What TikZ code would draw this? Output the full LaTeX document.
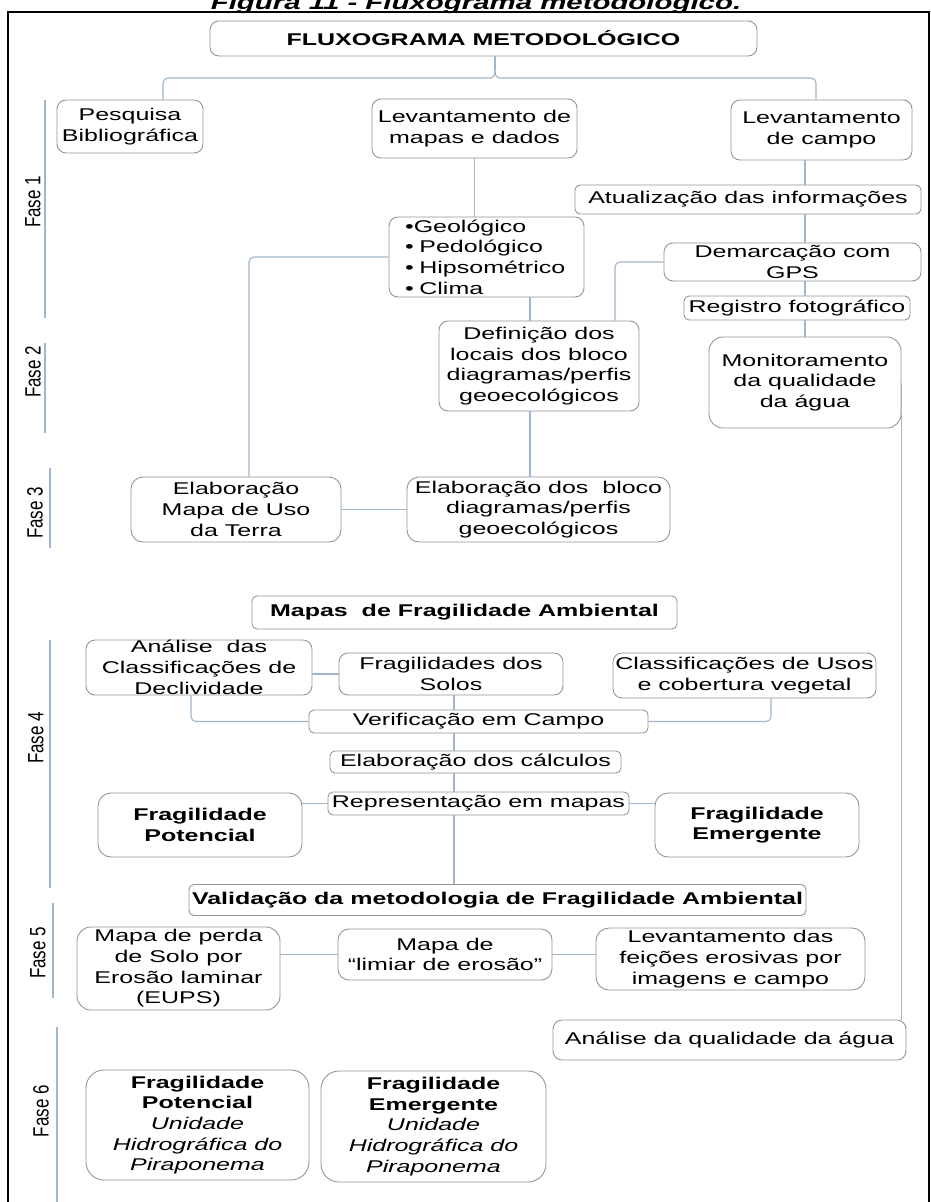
\documentclass[tikz,border=0pt]{standalone}
\usepackage{fontspec}
\setmainfont{Liberation Sans}[FakeStretch=1.47]
\newfontfamily\fasefont{Liberation Sans}
\usepackage{graphicx}
\definecolor{boxgray}{RGB}{150,150,150}
\definecolor{linec}{RGB}{160,182,204}
\newcommand\fs{\fontsize{17}{20.7}\selectfont}
\newcommand\faselbl[1]{\scalebox{1}[1.3]{\fasefont\fontsize{17}{19}\selectfont #1}}
\tikzset{
  box/.style={draw=boxgray, line width=0.9pt, rounded corners=9pt, align=center, inner sep=0pt, font=\fs, fill=white},
  smallbox/.style={box, rounded corners=5pt},
  conn/.style={draw=linec, line width=1.1pt, rounded corners=5pt},
  faseline/.style={draw=linec, line width=1.1pt},
  fasetxt/.style={rotate=90, inner sep=0pt}
}
\begin{document}
\begin{tikzpicture}[x=1pt,y=-1pt]
\useasboundingbox (0,0) rectangle (931,1202);
\fill[white] (0,0) rectangle (931,1202);
% frame and title
\draw[black, line width=1.3pt] (8,12) rectangle (929,1215);
\node[anchor=base, inner sep=0pt, font=\fontsize{20}{24}\selectfont\bfseries\itshape] (title) at (476,9.5) {Figura 11 - Fluxograma metodológico.};

% phase labels
\node[fasetxt] (f1) at (33,202) {\faselbl{Fase 1}};
\node[fasetxt] (f2) at (33,372) {\faselbl{Fase 2}};
\node[fasetxt] (f3) at (35,513) {\faselbl{Fase 3}};
\node[fasetxt] (f4) at (36,738) {\faselbl{Fase 4}};
\node[fasetxt] (f5) at (38,953) {\faselbl{Fase 5}};
\node[fasetxt] (f6) at (41,1111) {\faselbl{Fase 6}};
\draw[faseline] (45,100) -- (45,318);
\draw[faseline] (45,343) -- (45,433);
\draw[faseline] (50,468) -- (50,548);
\draw[faseline] (50,640) -- (50,888);
\draw[faseline] (53,903) -- (53,998);
\draw[faseline] (57,1027) -- (57,1202);

% boxes
\node[box, minimum width=547pt, minimum height=35pt] (flux) at (483.5,38.5) {\textbf{FLUXOGRAMA METODOLÓGICO}};
\node[box, minimum width=146pt, minimum height=53pt] (pesq) at (130,126.5) {Pesquisa\\Bibliográfica};
\node[box, minimum width=205pt, minimum height=59pt] (levm) at (474.5,128.5) {Levantamento de\\mapas e dados};
\node[box, minimum width=181pt, minimum height=60pt] (levc) at (821.5,130) {Levantamento\\de campo};
\node[smallbox, minimum width=346pt, minimum height=29pt] (atual) at (748,199.5) {Atualização das informações};
\node[box, minimum width=195pt, minimum height=80pt, text width=163pt, align=left] (geo) at (486.5,257) {•Geológico\\• Pedológico\\• Hipsométrico\\• Clima};
\node[box, minimum width=257pt, minimum height=38pt] (demarc) at (792.5,262) {Demarcação com\\GPS};
\node[smallbox, minimum width=226pt, minimum height=24pt] (regis) at (797,308) {Registro fotográfico};
\node[box, minimum width=200pt, minimum height=90pt] (defin) at (539,366) {Definição dos\\locais dos bloco\\diagramas/perfis\\geoecológicos};
\node[box, minimum width=192pt, minimum height=91pt, rounded corners=14pt] (monit) at (805,382.5) {Monitoramento\\da qualidade\\da água};
\node[box, minimum width=210pt, minimum height=65pt, rounded corners=12pt] (elabm) at (236,509.5) {Elaboração\\Mapa de Uso\\da Terra};
\node[box, minimum width=263pt, minimum height=65pt, rounded corners=12pt] (elabb) at (538.5,509.5) {Elaboração dos\ \ bloco\\diagramas/perfis\\geoecológicos};
\node[smallbox, minimum width=425pt, minimum height=33pt] (mapas) at (464.5,612.5) {\textbf{Mapas\ \ de Fragilidade Ambiental}};
\node[box, minimum width=226pt, minimum height=55pt] (andecl) at (199,667.5) {Análise\ \ das\\Classificações de\\Declividade};
\node[box, minimum width=224pt, minimum height=42pt] (fragsol) at (451,674) {Fragilidades dos\\Solos};
\node[box, minimum width=263pt, minimum height=45pt] (classu) at (744.5,675.5) {Classificações de Usos\\e cobertura vegetal};
\node[smallbox, minimum width=339pt, minimum height=23pt] (verif) at (478.5,721.5) {Verificação em Campo};
\node[smallbox, minimum width=291pt, minimum height=22pt] (calc) at (475.5,762) {Elaboração dos cálculos};
\node[smallbox, minimum width=301pt, minimum height=23pt] (repr) at (478.5,803.5) {Representação em mapas};
\node[box, minimum width=204pt, minimum height=64pt, rounded corners=13pt] (fpot) at (200,825) {\textbf{Fragilidade}\\\textbf{Potencial}};
\node[box, minimum width=204pt, minimum height=64pt, rounded corners=13pt] (femer) at (757,825) {\textbf{Fragilidade}\\\textbf{Emergente}};
\node[smallbox, minimum width=617pt, minimum height=31pt] (valid) at (497.5,900) {\textbf{Validação da metodologia de Fragilidade Ambiental}};
\node[box, minimum width=203pt, minimum height=83pt, rounded corners=14pt] (perda) at (178.5,968.5) {Mapa de perda\\de Solo por\\Erosão laminar\\(EUPS)};
\node[box, minimum width=214pt, minimum height=51pt, rounded corners=11pt] (limiar) at (445,954.5) {Mapa de\\“limiar de erosão”};
\node[box, minimum width=269pt, minimum height=62pt, rounded corners=13pt] (feic) at (730.5,959) {Levantamento das\\feições erosivas por\\imagens e campo};
\node[box, minimum width=353pt, minimum height=40pt] (agua) at (729.5,1040) {Análise da qualidade da água};
\node[box, minimum width=223pt, minimum height=110pt, rounded corners=18pt] (f6p) at (197.5,1125) {\textbf{Fragilidade}\\\textbf{Potencial}\\\textit{Unidade}\\\textit{Hidrográfica do}\\\textit{Piraponema}};
\node[box, minimum width=225pt, minimum height=111pt, rounded corners=18pt] (f6e) at (433.5,1126.5) {\textbf{Fragilidade}\\\textbf{Emergente}\\\textit{Unidade}\\\textit{Hidrográfica do}\\\textit{Piraponema}};

% helper coordinates
\coordinate (brtip) at (495,70);
\coordinate (brl) at (163,78);
\coordinate (brr) at (816,78);
\coordinate (rx) at (805,0);
\coordinate (mx) at (530,0);
\coordinate (lx) at (249,0);
\coordinate (dx) at (615,0);
\coordinate (ax) at (191,0);
\coordinate (ux) at (771,0);
\coordinate (cx) at (454,0);

% connectors
\draw[conn] (flux.south -| brtip) -- (brtip);
\draw[conn] (brtip) .. controls (495,76) and (493,78) .. (486,78) -- (brl) -- (pesq.north -| brl);
\draw[conn] (brtip) .. controls (495,76) and (497,78) .. (504,78) -- (brr) -- (levc.north -| brr);
\draw[conn] (levm.south) -- (geo.north -| levm.south);
\draw[conn] (levc.south -| rx) -- (atual.north -| rx);
\draw[conn] (atual.south -| rx) -- (demarc.north -| rx);
\draw[conn] (demarc.south -| rx) -- (regis.north -| rx);
\draw[conn] (regis.south -| rx) -- (monit.north -| rx);
\draw[conn] (geo.south -| mx) -- (defin.north -| mx);
\draw[conn] (geo.west) -- (geo.west -| lx) -- (elabm.north -| lx);
\draw[conn] (demarc.west) -- (demarc.west -| dx) -- (defin.north -| dx);
\draw[conn] (defin.south -| mx) -- (elabb.north -| mx);
\draw[conn] (elabm.east) -- (elabb.west);
\draw[conn] (monit.east) -- (monit.east |- agua.north);
\draw[conn] (fragsol.west -| andecl.east) -- (fragsol.west);
\draw[conn] (andecl.south -| ax) -- (verif.west -| ax) -- (verif.west);
\draw[conn] (classu.south -| ux) -- (verif.east -| ux) -- (verif.east);
\draw[conn] (fragsol.south -| cx) -- (verif.north -| cx);
\draw[conn] (verif.south -| cx) -- (calc.north -| cx);
\draw[conn] (calc.south -| cx) -- (repr.north -| cx);
\draw[conn] (repr.south -| cx) -- (valid.north -| cx);
\draw[conn] (repr.west) -- (repr.west -| fpot.east);
\draw[conn] (repr.east) -- (repr.east -| femer.west);
\draw[conn] (limiar.west -| perda.east) -- (limiar.west);
\draw[conn] (limiar.east) -- (limiar.east -| feic.west);
\end{tikzpicture}
\end{document}
